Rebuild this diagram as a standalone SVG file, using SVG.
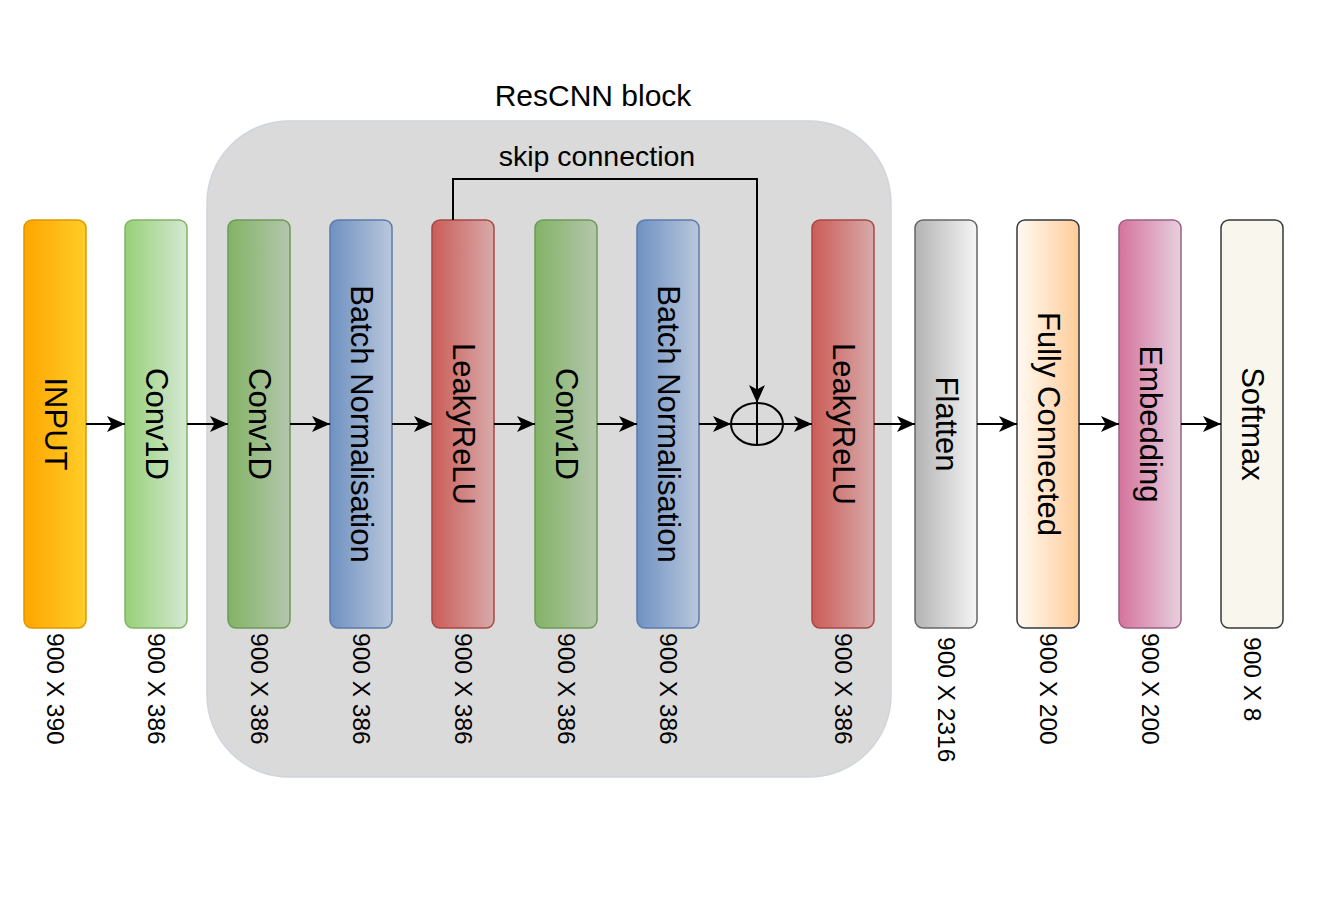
<svg xmlns="http://www.w3.org/2000/svg" width="1317" height="920" viewBox="0 0 1317 920">
<style>
.box{stroke-width:1.5}
.lbl{font-family:"Liberation Sans",Arial,sans-serif;font-size:31px;fill:#000;text-anchor:middle;dominant-baseline:central}
.dim{font-family:"Liberation Sans",Arial,sans-serif;font-size:24.5px;fill:#000;text-anchor:start;dominant-baseline:central}
.ttl{font-family:"Liberation Sans",Arial,sans-serif;font-size:30px;fill:#000;text-anchor:middle}
.edge{fill:none;stroke:#000;stroke-width:2}
</style>
<defs>
<marker id="arr" viewBox="0 0 18 16" refX="18" refY="8" markerWidth="18" markerHeight="16" markerUnits="userSpaceOnUse" orient="auto">
<path d="M0,0 L18,8 L0,16 L4.5,8 Z" fill="#000"/>
</marker>
<linearGradient id="gIn"><stop offset="0" stop-color="#ffa500"/><stop offset="1" stop-color="#ffcd28"/></linearGradient>
<linearGradient id="gC1"><stop offset="0" stop-color="#97d077"/><stop offset="1" stop-color="#d5e8d4"/></linearGradient>
<linearGradient id="gC2"><stop offset="0" stop-color="#82b366"/><stop offset="1" stop-color="#b4c6ac"/></linearGradient>
<linearGradient id="gBN"><stop offset="0" stop-color="#6f91c2"/><stop offset="1" stop-color="#b9c7db"/></linearGradient>
<linearGradient id="gLR"><stop offset="0" stop-color="#cb5c57"/><stop offset="1" stop-color="#d7aaaa"/></linearGradient>
<linearGradient id="gFl"><stop offset="0" stop-color="#b3b3b3"/><stop offset="1" stop-color="#f5f5f5"/></linearGradient>
<linearGradient id="gFC"><stop offset="0" stop-color="#fffaf3"/><stop offset="1" stop-color="#ffcc99"/></linearGradient>
<linearGradient id="gEm"><stop offset="0" stop-color="#d5739d"/><stop offset="1" stop-color="#e6d0de"/></linearGradient>
</defs>
<rect width="1317" height="920" fill="#fff"/>
<g id="resblock">
<rect x="207" y="121" width="684" height="656" rx="82" ry="82" fill="#dadada" stroke="#cfd5dc" stroke-width="1.5"/>
<text class="ttl" x="593" y="106">ResCNN block</text>
</g>
<g id="input"><rect class="box" x="24" y="220" width="62" height="408" rx="8" fill="url(#gIn)" stroke="#d79b00"/>
<text class="lbl" transform="translate(55,424) rotate(90)">INPUT</text>
<text class="dim" transform="translate(55,633) rotate(90)">900 X 390</text></g>
<g id="conv1"><rect class="box" x="125" y="220" width="62" height="408" rx="8" fill="url(#gC1)" stroke="#82b366"/>
<text class="lbl" transform="translate(156,424) rotate(90)">Conv1D</text>
<text class="dim" transform="translate(156,633) rotate(90)">900 X 386</text></g>
<g id="conv2"><rect class="box" x="228" y="220" width="62" height="408" rx="8" fill="url(#gC2)" stroke="#6d9a58"/>
<text class="lbl" transform="translate(259,424) rotate(90)">Conv1D</text>
<text class="dim" transform="translate(259,633) rotate(90)">900 X 386</text></g>
<g id="bn1"><rect class="box" x="330" y="220" width="62" height="408" rx="8" fill="url(#gBN)" stroke="#5b7bab"/>
<text class="lbl" transform="translate(361,424) rotate(90)">Batch Normalisation</text>
<text class="dim" transform="translate(361,633) rotate(90)">900 X 386</text></g>
<g id="lrelu1"><rect class="box" x="432" y="220" width="62" height="408" rx="8" fill="url(#gLR)" stroke="#a64845"/>
<text class="lbl" transform="translate(463,424) rotate(90)">LeakyReLU</text>
<text class="dim" transform="translate(463,633) rotate(90)">900 X 386</text></g>
<g id="conv3"><rect class="box" x="535" y="220" width="62" height="408" rx="8" fill="url(#gC2)" stroke="#6d9a58"/>
<text class="lbl" transform="translate(566,424) rotate(90)">Conv1D</text>
<text class="dim" transform="translate(566,633) rotate(90)">900 X 386</text></g>
<g id="bn2"><rect class="box" x="637" y="220" width="62" height="408" rx="8" fill="url(#gBN)" stroke="#5b7bab"/>
<text class="lbl" transform="translate(668,424) rotate(90)">Batch Normalisation</text>
<text class="dim" transform="translate(668,633) rotate(90)">900 X 386</text></g>
<g id="add"><ellipse cx="757" cy="424" rx="26" ry="21" fill="none" stroke="#000" stroke-width="2"/>
<path d="M731,424 H783 M757,403 V445" stroke="#000" stroke-width="2"/></g>
<g id="lrelu2"><rect class="box" x="812" y="220" width="62" height="408" rx="8" fill="url(#gLR)" stroke="#a64845"/>
<text class="lbl" transform="translate(843,424) rotate(90)">LeakyReLU</text>
<text class="dim" transform="translate(843,633) rotate(90)">900 X 386</text></g>
<g id="flatten"><rect class="box" x="915" y="220" width="62" height="408" rx="8" fill="url(#gFl)" stroke="#666666"/>
<text class="lbl" transform="translate(946,424) rotate(90)">Flatten</text>
<text class="dim" transform="translate(946,637) rotate(90)">900 X 2316</text></g>
<g id="fc"><rect class="box" x="1017" y="220" width="62" height="408" rx="8" fill="url(#gFC)" stroke="#36393d"/>
<text class="lbl" transform="translate(1048,424) rotate(90)">Fully Connected</text>
<text class="dim" transform="translate(1048,633) rotate(90)">900 X 200</text></g>
<g id="embedding"><rect class="box" x="1119" y="220" width="62" height="408" rx="8" fill="url(#gEm)" stroke="#996185"/>
<text class="lbl" transform="translate(1150,424) rotate(90)">Embedding</text>
<text class="dim" transform="translate(1150,633) rotate(90)">900 X 200</text></g>
<g id="softmax"><rect class="box" x="1221" y="220" width="62" height="408" rx="8" fill="#f9f7ed" stroke="#36393d"/>
<text class="lbl" transform="translate(1252,424) rotate(90)">Softmax</text>
<text class="dim" transform="translate(1252,637) rotate(90)">900 X 8</text></g>
<g id="connectors">
<path class="edge" d="M86,424 H125" marker-end="url(#arr)"/>
<path class="edge" d="M187,424 H228" marker-end="url(#arr)"/>
<path class="edge" d="M290,424 H330" marker-end="url(#arr)"/>
<path class="edge" d="M392,424 H432" marker-end="url(#arr)"/>
<path class="edge" d="M494,424 H535" marker-end="url(#arr)"/>
<path class="edge" d="M597,424 H637" marker-end="url(#arr)"/>
<path class="edge" d="M699,424 H731" marker-end="url(#arr)"/>
<path class="edge" d="M783,424 H812" marker-end="url(#arr)"/>
<path class="edge" d="M874,424 H915" marker-end="url(#arr)"/>
<path class="edge" d="M977,424 H1017" marker-end="url(#arr)"/>
<path class="edge" d="M1079,424 H1119" marker-end="url(#arr)"/>
<path class="edge" d="M1181,424 H1221" marker-end="url(#arr)"/>
<path class="edge" d="M453,220 V179 H757 V403" marker-end="url(#arr)"/>
<text class="ttl" x="597" y="166" style="font-size:28.5px">skip connection</text>
</g>
</svg>
